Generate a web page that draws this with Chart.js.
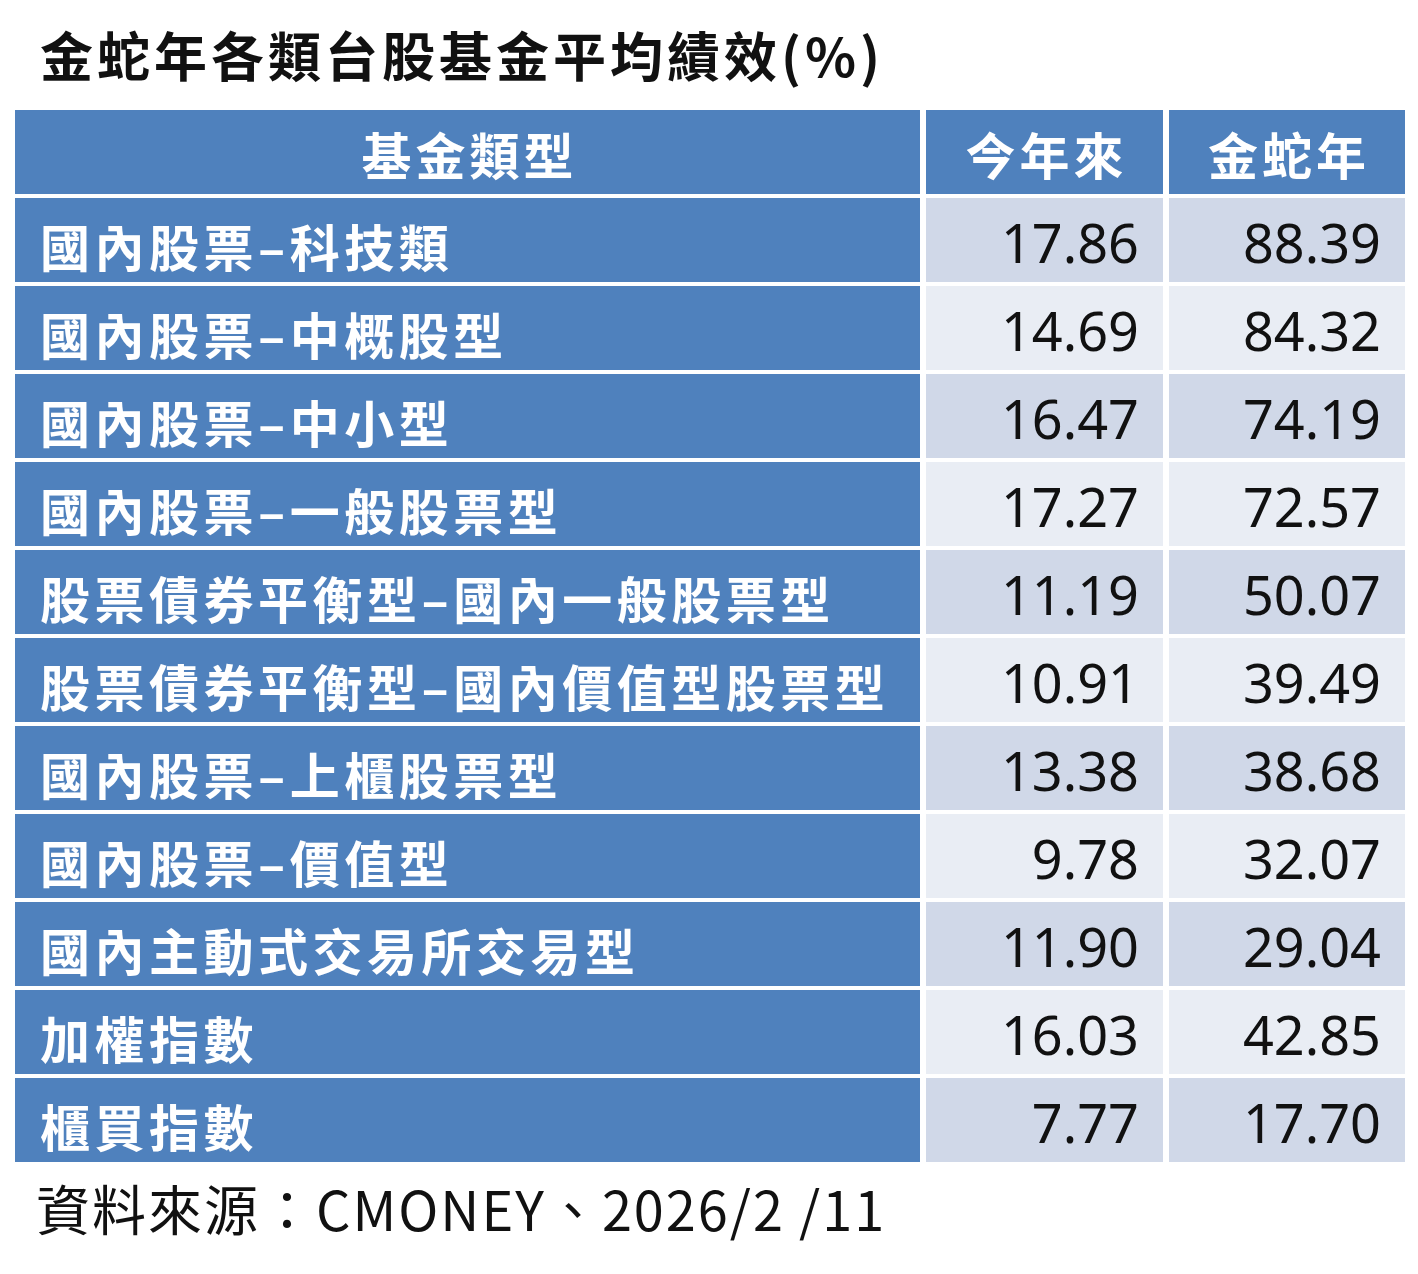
<!DOCTYPE html>
<html><head><meta charset="utf-8">
<script src="https://cdn.jsdelivr.net/npm/chart.js@4"></script>
<style>
body{margin:0;background:#fff;width:1418px;height:1274px;position:relative;overflow:hidden}
#title{position:absolute;left:40px;top:16px;font:bold 53px "Noto Sans CJK TC";color:#111;letter-spacing:4px}
#src{position:absolute;left:36px;top:1168px;font:54px "Noto Sans CJK TC";color:#111;letter-spacing:2px}
canvas{position:absolute;left:0;top:0}
</style></head><body>
<canvas id="c" width="1418" height="1274"></canvas>
<div id="title">金蛇年各類台股基金平均績效(%)</div>
<div id="src">資料來源：CMONEY、2026/2 /11</div>
<script>
// table contents
const headers = ['基金類型', '今年來', '金蛇年'];
const fundTypes = [
  '國內股票–科技類', '國內股票–中概股型', '國內股票–中小型', '國內股票–一般股票型',
  '股票債券平衡型–國內一般股票型', '股票債券平衡型–國內價值型股票型', '國內股票–上櫃股票型',
  '國內股票–價值型', '國內主動式交易所交易型', '加權指數', '櫃買指數'
];
const ytd = ['17.86', '14.69', '16.47', '17.27', '11.19', '10.91', '13.38', '9.78', '11.90', '16.03', '7.77'];
const snakeYear = ['88.39', '84.32', '74.19', '72.57', '50.07', '39.49', '38.68', '32.07', '29.04', '42.85', '17.70'];

// layout (x scale units = px)
const colEdges = [[15, 920], [926, 1163], [1169, 1405]];
const blue = '#4F81BD', band1 = '#D0D8E8', band2 = '#E9EDF4';

const rows = ['header', ...fundTypes];
const texts = [
  [headers[0], ...fundTypes],
  [headers[1], ...ytd],
  [headers[2], ...snakeYear]
];

const datasets = colEdges.map((e, ci) => ({
  data: rows.map(() => [e[0], e[1]]),
  backgroundColor: rows.map((r, ri) => (ri === 0 || ci === 0) ? blue : (ri % 2 ? band1 : band2)),
  barPercentage: 1,
  categoryPercentage: 0.955,
  grouped: false
}));

const textPlugin = {
  id: 'cellText',
  afterDatasetsDraw(chart) {
    const ctx = chart.ctx;
    ctx.save();
    ctx.textBaseline = 'middle';
    chart.data.datasets.forEach((ds, ci) => {
      chart.getDatasetMeta(ci).data.forEach((bar, ri) => {
        const left = Math.min(bar.x, bar.base), right = Math.max(bar.x, bar.base);
        const y = bar.y + 8;
        if (ri === 0) {
          ctx.fillStyle = '#fff';
          ctx.font = 'bold 50px "Noto Sans CJK TC"';
          ctx.letterSpacing = '4px';
          ctx.textAlign = 'center';
          ctx.fillText(texts[ci][ri], (left + right) / 2 + 2, bar.y + 4);
        } else if (ci === 0) {
          ctx.fillStyle = '#fff';
          ctx.font = 'bold 50px "Noto Sans CJK TC"';
          ctx.letterSpacing = '4.5px';
          ctx.textAlign = 'left';
          ctx.fillText(texts[ci][ri], left + 25, y);
        } else {
          ctx.fillStyle = '#111';
          ctx.font = '54px "Noto Sans"';
          ctx.letterSpacing = '0px';
          ctx.textAlign = 'right';
          ctx.fillText(texts[ci][ri], right - 24, y);
        }
      });
    });
    ctx.restore();
  }
};

Chart.defaults.animation = false;
new Chart(document.getElementById('c'), {
  type: 'bar',
  data: { labels: rows, datasets },
  options: {
    indexAxis: 'y',
    responsive: false,
    devicePixelRatio: 1,
    layout: { padding: { top: 108, bottom: 110, left: 0, right: 0 } },
    plugins: { legend: { display: false }, tooltip: { enabled: false } },
    scales: {
      x: { type: 'linear', min: 0, max: 1418, display: false },
      y: { type: 'category', display: false }
    }
  },
  plugins: [textPlugin]
});
</script>
</body></html>
